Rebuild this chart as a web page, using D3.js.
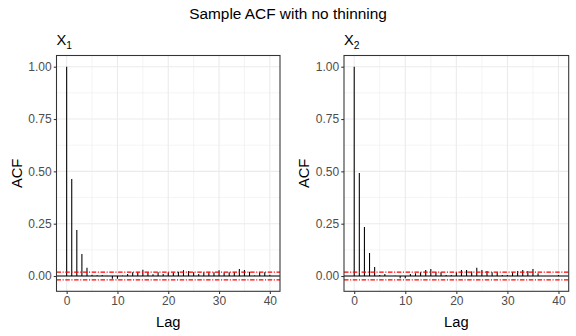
<!DOCTYPE html>
<html><head><meta charset="utf-8">
<script src="https://cdn.jsdelivr.net/npm/d3@7"></script>
<style>
html,body{margin:0;padding:0;background:#fff;}
text{font-family:"Liberation Sans",Arial,sans-serif;}
</style></head>
<body><svg id="c" width="576" height="336"></svg>
<script>
const lags = d3.range(0, 41);
const acfX1 = [1.0,0.464,0.22,0.105,0.04,0.006,0.004,0.005,0.001,-0.013,-0.013,0.002,0.01,0.018,0.018,0.03,0.018,0.008,0.018,0.01,0.018,0.017,0.02,0.028,0.024,0.018,0.01,0.018,0.017,0.018,0.028,0.017,0.018,0.018,0.033,0.029,0.02,0.002,0.018,0.018,0.006];
const acfX2 = [1.0,0.492,0.234,0.11,0.043,0.005,0.01,0.0,0.001,-0.011,-0.011,0.01,0.013,0.018,0.029,0.033,0.018,0.018,0.005,0.005,0.018,0.029,0.029,0.021,0.04,0.029,0.024,0.018,0.018,0.005,0.005,0.018,0.024,0.029,0.024,0.033,0.013,0.0,0.0,0.0,0.005];
const ciBound = 0.019;
const xTicks = [0,10,20,30,40];
const yTicks = [0,0.25,0.5,0.75,1.0];
const title = "Sample ACF with no thinning";
const panelNames = ["1","2"];

const svg = d3.select("#c");
svg.append("rect").attr("width",576).attr("height",336).attr("fill","#fff");

svg.append("text").attr("x",288).attr("y",19).attr("text-anchor","middle")
  .attr("font-size",15.4).attr("fill","#000").text(title);

const panels = [
  {x0:56.5, x1:280, data:acfX1, name:panelNames[0]},
  {x0:344, x1:568.7, data:acfX2, name:panelNames[1]}
];
const y0 = 55.5, y1 = 291.3;

panels.forEach(p => {
  const g = svg.append("g");
  const x = d3.scaleLinear().domain([-2,42]).range([p.x0,p.x1]);
  const y = d3.scaleLinear().domain([-0.073,1.0535]).range([y1,y0]);
  const xMinor = [5,15,25,35];
  const yMinor = [0.125,0.375,0.625,0.875];
  g.selectAll(".xm").data(xMinor).join("line")
    .attr("x1",d=>x(d)).attr("x2",d=>x(d)).attr("y1",y0).attr("y2",y1)
    .attr("stroke","#EBEBEB").attr("stroke-width",0.53);
  g.selectAll(".ym").data(yMinor).join("line")
    .attr("y1",d=>y(d)).attr("y2",d=>y(d)).attr("x1",p.x0).attr("x2",p.x1)
    .attr("stroke","#EBEBEB").attr("stroke-width",0.53);
  g.selectAll(".xM").data(xTicks).join("line")
    .attr("x1",d=>x(d)).attr("x2",d=>x(d)).attr("y1",y0).attr("y2",y1)
    .attr("stroke","#EBEBEB").attr("stroke-width",1.07);
  g.selectAll(".yM").data(yTicks).join("line")
    .attr("y1",d=>y(d)).attr("y2",d=>y(d)).attr("x1",p.x0).attr("x2",p.x1)
    .attr("stroke","#EBEBEB").attr("stroke-width",1.07);
  g.selectAll(".bar").data(lags).join("line")
    .attr("x1",d=>x(d)).attr("x2",d=>x(d))
    .attr("y1",y(0)).attr("y2",d=>y(p.data[d]))
    .attr("stroke","#000").attr("stroke-width",1.07);
  g.append("line").attr("x1",p.x0).attr("x2",p.x1).attr("y1",y(0)).attr("y2",y(0))
    .attr("stroke","#000").attr("stroke-width",1.07);
  [ciBound,-ciBound].forEach(b=>{
    g.append("line").attr("x1",p.x0).attr("x2",p.x1).attr("y1",y(b)).attr("y2",y(b))
      .attr("stroke","#FF0000").attr("stroke-width",1.25)
      .attr("stroke-dasharray","4.5,1.6,1.1,1.6");
  });
  g.append("rect").attr("x",p.x0).attr("y",y0).attr("width",p.x1-p.x0).attr("height",y1-y0)
    .attr("fill","none").attr("stroke","#333333").attr("stroke-width",1.07);
  const xa = g.append("g").attr("transform",`translate(0,${y1})`)
    .call(d3.axisBottom(x).tickValues(xTicks).tickSize(2.74).tickPadding(2.2).tickFormat(d3.format("d")));
  const ya = g.append("g").attr("transform",`translate(${p.x0},0)`)
    .call(d3.axisLeft(y).tickValues(yTicks).tickSize(2.74).tickPadding(2.2).tickFormat(d3.format(".2f")));
  [xa,ya].forEach(a=>{
    a.select(".domain").remove();
    a.selectAll(".tick line").attr("stroke","#333333").attr("stroke-width",1.07);
    a.selectAll(".tick text").attr("fill","#4D4D4D").attr("font-size",12)
      .attr("font-family","Liberation Sans, Arial, sans-serif");
  });
  g.append("text").attr("x",(p.x0+p.x1)/2).attr("y",327).attr("text-anchor","middle")
    .attr("font-size",14.7).attr("fill","#000").text("Lag");
  g.append("text").attr("transform",`translate(${p.x0-35},${(y0+y1)/2}) rotate(-90)`)
    .attr("text-anchor","middle").attr("font-size",14.7).attr("fill","#000").text("ACF");
  const t = g.append("text").attr("x",p.x0).attr("y",45).attr("font-size",14.7).attr("fill","#000");
  t.append("tspan").text("X");
  t.append("tspan").attr("font-size",10.3).attr("dy",3.5).text(p.name);
});
</script></body></html>
